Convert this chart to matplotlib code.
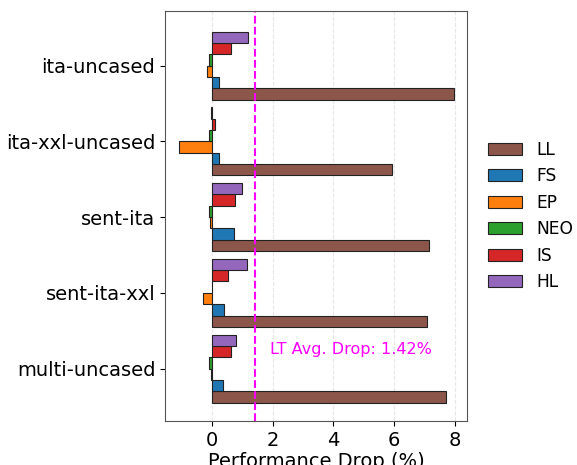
import numpy as np
import matplotlib
matplotlib.use("Agg")
import matplotlib.pyplot as plt

models = ["ita-uncased", "ita-xxl-uncased", "sent-ita", "sent-ita-xxl", "multi-uncased"]
series = ["LL", "FS", "EP", "NEO", "IS", "HL"]
LL = [7.97, 5.92, 7.16, 7.10, 7.72]
FS = [0.23, 0.22, 0.74, 0.40, 0.35]
EP = [-0.15, -1.10, -0.08, -0.30, -0.05]
NEO = [-0.10, -0.10, -0.10, 0.00, -0.11]
IS = [0.63, 0.09, 0.75, 0.54, 0.63]
HL = [1.19, -0.05, 0.99, 1.16, 0.79]
avg_drop = 1.42
colors = ["#8c564b", "#1f77b4", "#ff7f0e", "#2ca02c", "#d62728", "#9467bd"]

values = [LL, FS, EP, NEO, IS, HL]

fig = plt.figure(figsize=(5.77, 4.65), dpi=100)
ax = fig.add_axes([0.286, 0.095, 0.523, 0.881])

y = np.arange(len(models))[::-1].astype(float)
h = 0.15
for i, (name, vals, c) in enumerate(zip(series, values, colors)):
    ax.barh(y + (i - 2.5) * h, vals, height=h, color=c, edgecolor="#222222",
            linewidth=0.8, label=name)

ax.axvline(avg_drop, color="magenta", linestyle="--", linewidth=1.5)
ax.text(avg_drop + 0.5, 0.25, f"LT Avg. Drop: {avg_drop:.2f}%", color="magenta",
        fontsize=11.5, va="center", ha="left")

ax.set_yticks(y)
ax.set_yticklabels(models, fontsize=14)
ax.tick_params(axis="x", labelsize=14)
ax.set_xlim(-1.55, 8.4)
ax.set_ylim(-0.69, 4.72)
ax.set_xlabel("Performance Drop (%)", fontsize=14, labelpad=2)
ax.grid(axis="x", linestyle="--", alpha=0.3)
ax.set_axisbelow(True)
for s in ax.spines.values():
    s.set_color("#555555")

ax.legend(loc="center left", bbox_to_anchor=(1.02, 0.5), frameon=False, fontsize=12.3)

fig.savefig("out.png", dpi=100)
